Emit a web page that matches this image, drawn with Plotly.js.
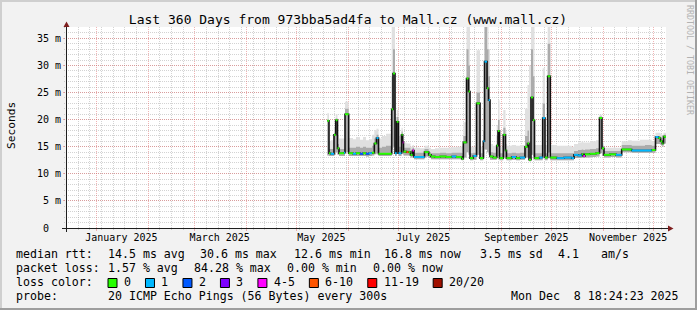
<!DOCTYPE html>
<html><head><meta charset="utf-8">
<script src="https://cdn.plot.ly/plotly-3.0.1.min.js"></script>
<style>html,body{margin:0;padding:0;background:#f2f2f2;}#chart{width:697px;height:310px;}</style>
</head><body><div id="chart"></div>
<script>
// ---------------- data ----------------
const times = [
'2025-05-19 13:00','2025-05-20 13:30','2025-05-21 14:00','2025-05-23 13:30','2025-05-24 14:00','2025-05-25 16:00','2025-05-26 13:30','2025-05-29 13:30','2025-05-30 04:00','2025-06-01 09:00',
'2025-06-03 23:00','2025-06-05 18:30','2025-06-08 04:00','2025-06-09 23:00','2025-06-11 18:30','2025-06-13 13:30','2025-06-15 09:00','2025-06-16 18:00','2025-06-18 01:30','2025-06-19 06:30',
'2025-06-21 09:00','2025-06-23 18:30','2025-06-27 04:30','2025-06-27 23:15','2025-06-29 04:00','2025-06-30 04:30','2025-07-01 06:30','2025-07-03 01:40','2025-07-03 19:00','2025-07-04 06:30',
'2025-07-06 01:40','2025-07-07 06:30','2025-07-08 11:15','2025-07-09 16:00','2025-07-10 13:40','2025-07-14 04:00','2025-07-16 21:00','2025-07-19 09:20','2025-07-20 18:30','2025-07-23 04:00',
'2025-07-26 04:00','2025-07-29 18:30','2025-08-02 04:50','2025-08-04 18:40','2025-08-08 04:50','2025-08-09 03:50','2025-08-11 02:00','2025-08-12 06:40','2025-08-13 04:20','2025-08-15 03:50',
'2025-08-17 02:00','2025-08-19 04:20','2025-08-21 03:50','2025-08-21 21:10','2025-08-23 09:10','2025-08-24 06:40','2025-08-25 04:20','2025-08-26 23:30','2025-08-29 04:50','2025-08-29 23:30',
'2025-08-30 21:10','2025-09-02 03:20','2025-09-03 11:00','2025-09-04 01:30','2025-09-07 04:20','2025-09-09 18:15','2025-09-12 03:50','2025-09-15 03:50','2025-09-16 15:50','2025-09-17 13:20',
'2025-09-18 18:15','2025-09-19 23:00','2025-09-20 20:40','2025-09-23 17:45','2025-09-25 18:40','2025-09-27 03:50','2025-09-28 18:40','2025-09-30 08:10','2025-10-04 04:20','2025-10-08 13:30',
'2025-10-13 04:20','2025-10-14 13:30','2025-10-16 23:00','2025-10-19 04:20','2025-10-20 03:20','2025-10-21 03:50','2025-10-24 03:50','2025-10-27 18:15','2025-10-29 20:40','2025-10-31 08:40',
'2025-11-01 13:30','2025-11-05 03:50','2025-11-08 18:15','2025-11-12 04:20','2025-11-15 23:00','2025-11-18 04:20','2025-11-23 03:50','2025-11-26 03:50','2025-11-30 04:20','2025-12-02 11:00',
'2025-12-04 06:15','2025-12-05 11:00','2025-12-06 13:00','2025-12-07 06:15','2025-12-08 04:00','2025-12-08 18:00'
];
const medianRtt = [
19.8,13.8,13.7,17.2,19.9,14.7,13.8,13.9,21.0,13.8,
13.7,13.8,13.7,13.8,13.7,13.8,13.9,15.6,16.6,13.7,
13.7,13.7,21.9,28.5,13.8,19.6,13.8,17.2,15.8,14.1,
14.0,14.0,13.5,14.3,13.1,13.1,14.0,13.5,13.2,13.1,
13.2,13.1,13.2,13.1,12.8,15.8,27.6,25.2,12.9,13.3,
23.0,12.9,16.0,30.7,25.8,23.6,13.2,13.0,15.2,17.9,
12.9,17.2,14.3,12.9,13.1,12.9,13.0,15.0,15.6,12.6,
24.1,19.9,12.9,13.0,20.3,13.0,28.0,13.0,12.9,13.0,
12.9,13.5,13.4,13.6,13.3,13.6,13.7,13.8,20.3,14.7,
13.5,13.6,13.5,14.5,14.5,14.3,14.3,14.3,14.4,16.8,
16.6,16.0,15.6,16.9,16.8,16.8
];
// loss bucket index (0 = "0", 1 = "1", 2 = "2", 3 = "3", 4 = "4-5", 5 = "6-10", 6 = "11-19", 7 = "20/20")
const lossBucket = [
0,0,1,0,0,0,0,1,0,0,
1,0,2,0,2,1,0,0,1,0,
0,0,0,0,1,0,1,0,4,0,
5,0,0,4,1,1,0,0,0,0,
0,0,1,0,0,0,0,0,0,1,
0,0,1,1,0,1,0,0,0,0,
0,0,0,0,1,0,1,0,0,0,
0,0,0,1,1,0,0,0,1,1,
1,1,1,0,4,0,0,0,0,0,
0,0,1,0,0,1,1,1,0,1,
0,0,0,0,0,0
];
const smokeLow = [
13.4,13.3,13.3,13.5,14.0,13.5,13.3,13.3,14.0,13.3,
13.3,13.3,13.3,13.3,13.2,13.3,13.4,13.6,13.8,13.3,
13.3,13.3,14.5,15.0,13.3,14.0,13.3,13.8,13.6,13.4,
13.4,13.4,13.0,13.2,12.7,12.7,13.2,12.9,12.7,12.7,
12.7,12.7,12.7,12.7,12.5,13.0,14.0,13.5,12.5,12.6,
13.5,12.5,13.0,14.5,14.0,13.5,12.6,12.6,13.0,13.2,
12.5,13.0,12.8,12.5,12.6,12.5,12.6,13.0,13.0,12.3,
13.5,13.2,12.5,12.5,13.2,12.5,14.0,12.5,12.5,12.5,
12.5,12.9,12.9,13.0,12.9,13.0,13.1,13.2,13.8,13.3,
13.0,13.1,13.0,14.0,14.0,13.9,13.9,13.9,13.9,15.5,
15.5,15.3,15.0,15.6,15.6,15.6
];
const smokeMid = [
20.0,14.6,14.6,17.5,20.2,15.5,14.6,14.6,22.0,14.8,
14.8,15.0,14.8,15.0,14.8,14.8,15.2,16.5,17.2,14.8,
15.0,15.2,28.0,33.0,16.0,20.5,15.0,17.8,16.2,14.8,
14.8,14.8,14.2,14.8,13.9,13.9,14.6,14.0,13.8,13.8,
13.9,13.8,13.9,13.9,13.8,17.0,33.0,30.0,13.8,13.9,
25.0,13.8,18.0,37.1,33.0,28.0,14.0,13.9,17.0,20.0,
13.8,18.5,15.5,13.8,13.9,13.8,13.9,17.0,18.0,16.0,
33.0,28.0,13.8,13.8,23.0,13.8,34.0,13.8,13.8,13.8,
13.8,14.2,14.4,14.5,14.4,14.5,14.6,14.7,20.6,15.2,
14.2,14.2,14.2,15.3,15.3,15.2,15.2,15.3,15.2,17.0,
17.0,16.6,16.3,17.2,17.2,17.2
];
const smokeHigh = [
21.2,16.0,16.2,18.5,21.0,17.0,16.5,16.5,23.3,16.6,
16.4,16.8,16.3,16.8,16.2,16.4,17.2,18.1,18.3,16.5,
17.0,17.4,37.1,37.1,20.5,21.8,17.0,18.5,17.2,15.8,
15.6,15.6,15.0,15.3,14.8,14.7,15.2,14.8,14.6,14.7,
14.8,14.8,14.9,15.0,15.2,19.5,37.1,37.1,15.0,15.0,
32.8,15.0,22.0,37.1,37.1,33.0,15.5,15.2,19.0,23.6,
15.0,21.8,18.0,15.2,15.3,15.2,15.3,22.0,26.4,30.0,
37.1,37.1,15.3,15.3,29.5,15.3,37.1,15.3,15.2,15.2,
15.0,15.5,15.8,16.0,15.8,15.8,16.0,16.2,20.9,15.8,
14.8,14.8,14.8,16.0,16.2,16.1,16.3,16.3,16.0,17.6,
17.6,17.3,17.0,17.6,17.6,17.6
];

const lossLabels = ['0','1','2','3','4-5','6-10','11-19','20/20'];
const lossColors = ['#26ff00','#00b8ff','#0059ff','#7e00ff','#ff00ff','#ff5500','#ff0000','#a01000'];

const yTickVals = [0,5,10,15,20,25,30,35];
const yTickText = ['0\u00a0\u00a0','5 m','10 m','15 m','20 m','25 m','30 m','35 m'];
const xLabelVals = ['2025-01-16','2025-03-16','2025-05-16','2025-07-16','2025-09-16','2025-11-16'];
const xLabelText = ['January 2025','March 2025','May 2025','July 2025','September 2025','November 2025'];
const timeRange = ['2024-12-13 18:24:23','2025-12-08 18:24:23'];

const titleText = 'Last 360 Days from 973bba5ad4fa to Mall.cz (www.mall.cz)';
const medianLabel = 'median rtt:';
const medianStats = ['14.5 ms avg','30.6 ms max','12.6 ms min','16.8 ms now','3.5 ms sd','4.1','am/s'];
const lossLabel = 'packet loss:';
const lossStats = ['1.57 % avg','84.28 % max','0.00 % min','0.00 % now'];
const colorLabel = 'loss color:';
const probeLabel = 'probe:';
const probeText = '20 ICMP Echo Pings (56 Bytes) every 300s';
const stampText = 'Mon Dec\u00a0\u00a08 18:24:23 2025';
const watermark = 'RRDTOOL / TOBI OETIKER';

// ---------------- geometry ----------------
const FW = 697, FH = 310, L = 66, T = 27, W = 600, H = 201;
const px = x => (x - L) / W;
const py = y => (T + H - y) / H;
const MONO = 'DejaVu Sans Mono';

// ---------------- traces ----------------
const base = {type:'scatter', mode:'lines', hoverinfo:'skip', showlegend:false, x:times};
const traces = [];
traces.push(Object.assign({}, base, {y:smokeLow, line:{width:0, shape:'hv'}}));
traces.push(Object.assign({}, base, {y:smokeHigh, line:{width:0, shape:'hv'}, fill:'tonexty', fillcolor:'#e0e0e0'}));
traces.push(Object.assign({}, base, {y:smokeLow, line:{width:0, shape:'hv'}}));
traces.push(Object.assign({}, base, {y:smokeMid, line:{width:0, shape:'hv'}, fill:'tonexty', fillcolor:'#ababab'}));
traces.push(Object.assign({}, base, {y:medianRtt, line:{width:1.6, color:'#111', shape:'hv'}}));
for (let b = 0; b < lossColors.length; b++) {
  const sx = [], sy = [];
  for (let i = 0; i < times.length - 1; i++) {
    if (lossBucket[i] === b) { sx.push(times[i], times[i+1], null); sy.push(medianRtt[i], medianRtt[i], null); }
  }
  if (sx.length) traces.push({type:'scatter', mode:'lines', x:sx, y:sy, hoverinfo:'skip', showlegend:false, line:{width:2, color:lossColors[b]}});
}
// carrier for the label axis
traces.push({type:'scatter', mode:'lines', x:timeRange, y:[null,null], xaxis:'x2', yaxis:'y', hoverinfo:'skip', showlegend:false});

// ---------------- annotations ----------------
const ann = [];
function txt(x, y, s, size, extra) {
  ann.push(Object.assign({xref:'paper', yref:'paper', x:px(x), y:py(y), text:s, showarrow:false,
    xanchor:'left', yanchor:'middle', font:{family:MONO, size:size, color:'#000'}, borderpad:0}, extra || {}));
}
const LEG = 11.6;
txt(15, 254.3, medianLabel, LEG);
[107, 199, 292.8, 382.5, 478.5, 557.3, 599.5].forEach((x, i) => txt(x, 254.3, medianStats[i], LEG));
txt(15, 268.3, lossLabel, LEG);
[107, 192.8, 286.2, 372].forEach((x, i) => txt(x, 268.3, lossStats[i], LEG));
txt(15, 282.3, colorLabel, LEG);
txt(15, 296, probeLabel, LEG);
txt(107, 296, probeText, LEG);
txt(680, 296, stampText, LEG, {xanchor:'right'});
txt(11, 126, 'Seconds', 11.2, {xanchor:'center', textangle:-90});
txt(690, 60, watermark, 8.3, {xanchor:'center', textangle:90, font:{family:MONO, size:8.3, color:'#b2b2b2'}});

// legend boxes
const shapes = [];
let cur = 107.5;
lossLabels.forEach((lab, i) => {
  shapes.push({type:'rect', xref:'paper', yref:'paper', x0:px(cur+0.5), x1:px(cur+9.5), y0:py(287.5), y1:py(278.5),
    fillcolor:lossColors[i], line:{color:'#000', width:1}, layer:'above'});
  txt(cur + 15.5, 282.3, lab, LEG);
  cur = cur + 15.5 + lab.length * 6.98 + 15;
});

// axes lines and arrows
const AX = '#1f1f1f', ARR = '#7f1f1f';
shapes.push({type:'line', xref:'paper', yref:'paper', x0:px(62), x1:px(670), y0:py(228.5), y1:py(228.5), line:{color:AX, width:1}, layer:'above'});
shapes.push({type:'line', xref:'paper', yref:'paper', x0:px(66.5), x1:px(66.5), y0:py(232), y1:py(24), line:{color:AX, width:1}, layer:'above'});
shapes.push({type:'path', xref:'paper', yref:'paper', layer:'above', fillcolor:ARR, line:{width:0},
  path:`M${px(668)},${py(225.5)} L${px(668)},${py(231.5)} L${px(673.5)},${py(228.5)} Z`});
shapes.push({type:'path', xref:'paper', yref:'paper', layer:'above', fillcolor:ARR, line:{width:0},
  path:`M${px(63.5)},${py(27)} L${px(69.5)},${py(27)} L${px(66.5)},${py(21.5)} Z`});
// 3D frame
shapes.push({type:'rect', xref:'paper', yref:'paper', x0:px(0), x1:px(FW), y0:py(0), y1:py(2), fillcolor:'#cfcfcf', line:{width:0}, layer:'above'});
shapes.push({type:'rect', xref:'paper', yref:'paper', x0:px(0), x1:px(2), y0:py(0), y1:py(FH), fillcolor:'#cfcfcf', line:{width:0}, layer:'above'});
shapes.push({type:'rect', xref:'paper', yref:'paper', x0:px(0), x1:px(FW), y0:py(FH-2), y1:py(FH), fillcolor:'#9e9e9e', line:{width:0}, layer:'above'});
shapes.push({type:'rect', xref:'paper', yref:'paper', x0:px(FW-2), x1:px(FW), y0:py(0), y1:py(FH), fillcolor:'#9e9e9e', line:{width:0}, layer:'above'});

const MGRID = 'rgba(225,90,90,0.45)', GRID = 'rgba(150,150,150,0.42)';
const layout = {
  width:FW, height:FH, margin:{l:L, r:FW-L-W, t:T, b:FH-T-H, pad:0},
  paper_bgcolor:'#f2f2f2', plot_bgcolor:'#ffffff', showlegend:false,
  font:{family:MONO, color:'#000'},
  title:{text:titleText, font:{family:MONO, size:13, color:'#000'}, xref:'container', yref:'container',
    x:348/FW, xanchor:'center', y:1-19.5/FH, yanchor:'middle'},
  xaxis:{type:'date', range:timeRange, tickmode:'linear', tick0:'2025-01-01', dtick:'M1',
    showgrid:true, gridcolor:MGRID, griddash:'1px,1px', gridwidth:1, showticklabels:false,
    ticks:'outside', ticklen:2, tickcolor:MGRID, zeroline:false, showline:false, fixedrange:true,
    minor:{tickmode:'linear', tick0:'2025-11-01', dtick:7*86400000, showgrid:true, gridcolor:GRID, griddash:'1px,1px',
      ticks:'outside', ticklen:1, tickcolor:GRID}},
  xaxis2:{type:'date', range:timeRange, overlaying:'x', anchor:'y', side:'bottom', tickmode:'array',
    tickvals:xLabelVals, ticktext:xLabelText, showgrid:false, ticks:'', zeroline:false, showline:false,
    tickfont:{family:MONO, size:10, color:'#000'}, ticklabelstandoff:2, fixedrange:true},
  yaxis:{range:[0,37.1], tickmode:'array', tickvals:yTickVals, ticktext:yTickText, showgrid:true,
    gridcolor:MGRID, griddash:'1px,1px', ticks:'outside', ticklen:2, tickcolor:MGRID, zeroline:false, showline:false,
    tickfont:{family:MONO, size:10, color:'#000'}, fixedrange:true,
    minor:{tickmode:'linear', tick0:0, dtick:1, showgrid:true, gridcolor:GRID, griddash:'1px,1px', ticks:'outside', ticklen:1, tickcolor:GRID}},
  annotations:ann, shapes:shapes
};
Plotly.newPlot('chart', traces, layout, {displayModeBar:false, staticPlot:true});
</script></body></html>
